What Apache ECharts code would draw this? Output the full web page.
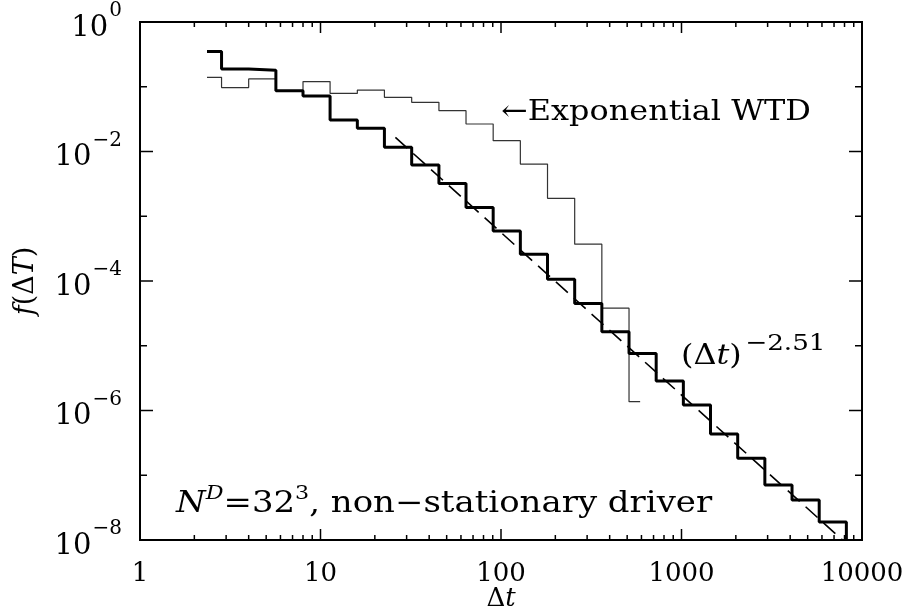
<html>
<head>
    <script src="https://cdn.jsdelivr.net/npm/echarts/dist/echarts.min.js"></script>
</head>
<body style="margin:0;background:#fff;">
    <div id="main" style="width:908px;height:616px;"></div>
    <script>
        // histogram bin edges (delta t), both curves share them
        var binEdges = [2.35, 2.83, 4, 5.66, 8, 11.3, 16, 22.6, 32, 45.3, 64, 90.5, 128, 181, 256,
            362, 512, 724, 1024, 1448, 2048, 2896, 4096, 5793, 8192];
        // thick curve, N^D=32^3 non-stationary driver
        var driverVals = [0.35, 0.188, 0.18, 0.087, 0.072, 0.0307, 0.0229, 0.0116, 0.0062, 0.0032,
            0.00137, 5.9e-4, 2.6e-4, 1.06e-4, 4.5e-5, 1.65e-5, 7.6e-6, 2.86e-6, 1.22e-6, 4.34e-7,
            1.83e-7, 7.07e-8, 4.15e-8, 1.9e-8];
        // thin curve, exponential WTD (last bin stops short)
        var expVals = [0.14, 0.097, 0.132, 0.087, 0.12, 0.079, 0.089, 0.0687, 0.0575, 0.0427,
            0.0266, 0.0147, 0.0064, 0.00189, 3.7e-4, 3.8e-5, 1.37e-6];
        var expLastEdge = 590;
        // dashed fit (dt)^-2.51
        var fitPoints = [[26, 0.0165], [7800, 1.0e-8]];

        // tick positions
        var xMajorTicks = [10, 100, 1000];
        var xMinorTicks = [2, 3, 4, 5, 6, 7, 8, 9, 20, 30, 40, 50, 60, 70, 80, 90,
            200, 300, 400, 500, 600, 700, 800, 900, 2000, 3000, 4000, 5000, 6000, 7000, 8000, 9000];
        var yMajorTicks = [1e-2, 1e-4, 1e-6];
        var yMinorTicks = [1e-1, 1e-3, 1e-5, 1e-7];

        var xMin = 1, xMax = 10000, yMin = 1e-8, yMax = 1;
        var FONT = 'DejaVu Serif';
        var STRETCH = 1.14; // the original lettering runs a bit wider

        function stepPoints(edges, vals, lastEdge) {
            var pts = [];
            for (var i = 0; i < vals.length; i++) pts.push([edges[i], vals[i]]);
            pts.push([lastEdge, vals[vals.length - 1]]);
            return pts;
        }
        var driverData = stepPoints(binEdges, driverVals, binEdges[binEdges.length - 1]);
        driverData.push([binEdges[binEdges.length - 1], yMin]); // drop to the axis
        var expData = stepPoints(binEdges, expVals, expLastEdge);

        // tick items: [x, y, kind(0=x,1=y), length]
        var tickData = [];
        xMajorTicks.forEach(function (v) { tickData.push([v, yMin, 0, 11]); });
        xMinorTicks.forEach(function (v) { tickData.push([v, yMin, 0, 5]); });
        yMajorTicks.forEach(function (v) { tickData.push([xMin, v, 1, 13]); });
        yMinorTicks.forEach(function (v) { tickData.push([xMin, v, 1, 7]); });

        function renderTick(params, api) {
            var cs = params.coordSys;
            var kind = api.value(2), len = api.value(3);
            var segs;
            if (kind === 0) {
                var px = api.coord([api.value(0), yMin])[0];
                segs = [[px, cs.y + cs.height, px, cs.y + cs.height - len], [px, cs.y, px, cs.y + len]];
            } else {
                var py = api.coord([xMin, api.value(1)])[1];
                segs = [[cs.x, py, cs.x + len, py], [cs.x + cs.width, py, cs.x + cs.width - len, py]];
            }
            return {
                type: 'group',
                children: segs.map(function (s) {
                    return {
                        type: 'line',
                        shape: { x1: s[0], y1: s[1], x2: s[2], y2: s[3] },
                        style: { stroke: '#000', lineWidth: 1.5 }
                    };
                })
            };
        }

        var myChart = echarts.init(document.getElementById('main'));

        var option = {
            backgroundColor: '#fff',
            animation: false,
            grid: {
                left: 140, right: 46, top: 22, bottom: 76,
                outerBoundsMode: 'none', containLabel: false,
                show: true, borderColor: '#000', borderWidth: 2, backgroundColor: 'transparent'
            },
            xAxis: {
                type: 'log', logBase: 10, min: xMin, max: xMax,
                axisLine: { show: false }, axisTick: { show: false }, splitLine: { show: false },
                axisLabel: {
                    color: '#000', fontFamily: FONT, fontSize: 26, margin: 9,
                    formatter: function (v) { return String(Math.round(v)); }
                },
                name: '\u0394{i|t}', nameLocation: 'middle', nameGap: 34, nameMoveOverlap: false,
                nameTextStyle: {
                    color: '#000', fontFamily: FONT, fontSize: 26,
                    rich: { i: { fontFamily: FONT, fontSize: 26, fontStyle: 'italic', color: '#000' } }
                }
            },
            yAxis: {
                type: 'log', logBase: 10, min: yMin, max: yMax,
                axisLine: { show: false }, axisTick: { show: false }, splitLine: { show: false },
                axisLabel: {
                    margin: 18,
                    formatter: function (v) {
                        var e = Math.round(Math.log10(v));
                        if (e % 2 !== 0) return '';
                        return '{b|10}{s|' + (e < 0 ? '\u2212' + (-e) : e) + '}';
                    },
                    rich: {
                        b: { fontFamily: FONT, fontSize: 29, color: '#000', padding: [12, 0, 0, 0] },
                        s: { fontFamily: FONT, fontSize: 20, color: '#000', padding: [0, 0, 22, 1] }
                    }
                },
                name: '{i|f}(\u0394{i|T})', nameLocation: 'middle', nameRotate: 90, nameGap: 87,
                nameMoveOverlap: false,
                nameTextStyle: {
                    color: '#000', fontFamily: FONT, fontSize: 27,
                    rich: { i: { fontFamily: FONT, fontSize: 27, fontStyle: 'italic', color: '#000' } }
                }
            },
            series: [
                {
                    name: 'Exponential WTD', type: 'line', step: 'end', data: expData,
                    symbol: 'none', z: 3,
                    lineStyle: { color: '#333', width: 1.2 }
                },
                {
                    name: 'fit', type: 'line', data: fitPoints, symbol: 'none', z: 4,
                    lineStyle: { color: '#000', width: 1.6, type: [16, 8] }
                },
                {
                    name: 'driver', type: 'line', step: 'end', data: driverData,
                    symbol: 'none', z: 5,
                    lineStyle: { color: '#000', width: 3 }
                },
                {
                    name: 'ticks', type: 'custom', data: tickData, renderItem: renderTick,
                    silent: true, z: 6
                }
            ],
            graphic: [
                {
                    type: 'text', x: 501, y: 113, z: 10, scaleX: STRETCH,
                    style: {
                        text: '\u2190Exponential WTD', font: '28px "DejaVu Serif"', fill: '#000',
                        textAlign: 'left', textVerticalAlign: 'middle'
                    }
                },
                {
                    type: 'text', x: 681, y: 357, z: 10, scaleX: STRETCH,
                    style: {
                        text: '(\u0394{i|t}){s|\u22122.51}', fill: '#000', font: '28px "DejaVu Serif"',
                        textAlign: 'left', textVerticalAlign: 'middle',
                        rich: {
                            i: { fontFamily: FONT, fontSize: 28, fontStyle: 'italic', fill: '#000' },
                            s: { fontFamily: FONT, fontSize: 23, fill: '#000', padding: [0, 0, 26, 3] }
                        }
                    }
                },
                {
                    type: 'text', x: 176, y: 504, z: 10, scaleX: 1.17,
                    style: {
                        text: '{i|N}{si|D}=32{s|3}, non\u2212stationary driver', fill: '#000',
                        font: '29px "DejaVu Serif"', textAlign: 'left', textVerticalAlign: 'middle',
                        rich: {
                            i: { fontFamily: FONT, fontSize: 29, fontStyle: 'italic', fill: '#000' },
                            si: { fontFamily: FONT, fontSize: 19, fontStyle: 'italic', fill: '#000', padding: [0, 0, 20, 0] },
                            s: { fontFamily: FONT, fontSize: 19, fill: '#000', padding: [0, 0, 20, 0] }
                        }
                    }
                }
            ]
        };
        myChart.setOption(option);
    </script>
</body>
</html>
